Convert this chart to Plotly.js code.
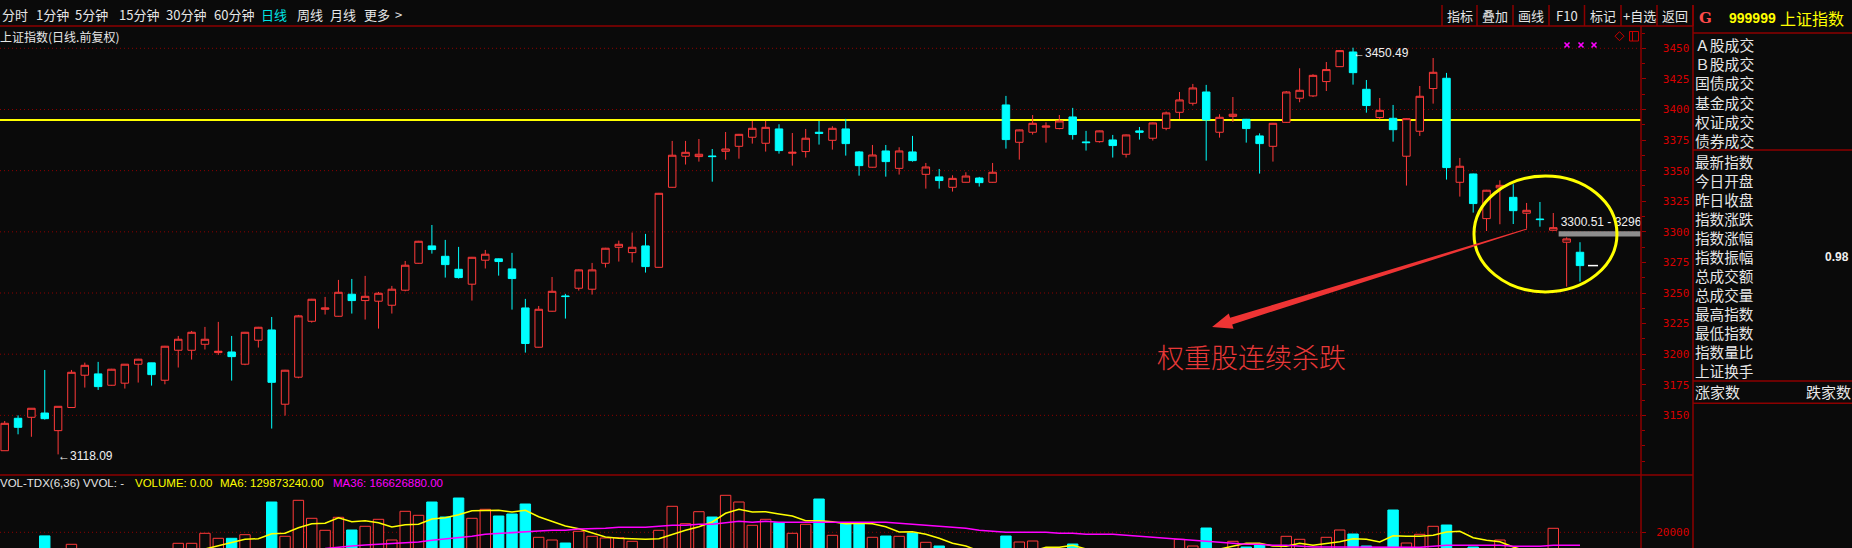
<!DOCTYPE html>
<html>
<head>
<meta charset="utf-8">
<script src="https://cdn.plot.ly/plotly-3.0.1.min.js"></script>
<style>
  html, body { margin: 0; padding: 0; background: #0a0a0a; overflow: hidden; }
  #chart { width: 1852px; height: 548px; }
</style>
</head>
<body>
<div id="chart"></div>
<script>
// ---- Daily bars, 上证指数 (index points) ----
const openPx = [3121.1,3147.6,3148.4,3151.9,3137.5,3156.4,3182.8,3183.9,3174.6,3176.3,
3191.8,3192.9,3178.7,3203.2,3203.2,3208.1,3201.3,3201.8,3191.8,3211.4,
3219.8,3159.1,3181.2,3226.9,3236.7,3231.0,3249.0,3243.8,3243.3,3240.0,
3252.3,3274.3,3288.5,3280.0,3269.4,3257.2,3276.8,3277.9,3269.7,3237.8,
3205.7,3235.1,3247.6,3253.9,3253.1,3274.3,3287.4,3283.0,3288.5,3271.0,
3336.4,3361.8,3361.5,3362.0,3365.8,3369.9,3377.3,3372.4,3384.1,3364.2,
3365.6,3381.4,3374.8,3384.1,3365.3,3352.8,3366.1,3351.9,3365.3,3347.0,
3344.9,3336.4,3340.5,3344.0,3340.5,3403.7,3373.2,3381.4,3385.5,3384.4,
3393.9,3373.5,3373.7,3375.1,3363.4,3382.5,3376.5,3384.6,3397.7,3405.1,
3414.3,3381.4,3394.4,3392.0,3378.4,3369.9,3389.5,3409.2,3411.1,3422.8,
3435.0,3447.0,3416.5,3393.4,3392.8,3361.8,3382.2,3417.1,3425.5,3340.5,
3347.3,3310.8,3335.9,3328.2,3315.2,3310.5,3301.3,3291.5,3283.3];

const highPx = [3145.4,3150.0,3155.8,3187.1,3157.4,3187.1,3193.1,3193.7,3188.0,3192.0,
3196.2,3193.0,3206.8,3214.9,3219.0,3222.3,3226.4,3214.9,3218.2,3222.3,
3230.4,3187.2,3232.1,3245.2,3246.8,3260.7,3261.5,3264.0,3250.9,3255.8,
3276.2,3292.6,3305.6,3293.4,3287.7,3279.5,3285.2,3278.2,3282.8,3245.2,
3239.4,3263.1,3249.3,3269.2,3274.6,3286.9,3292.8,3299.4,3298.3,3331.8,
3374.3,3374.3,3375.9,3367.7,3381.6,3380.0,3390.6,3390.6,3387.9,3380.8,
3384.1,3390.6,3386.3,3392.3,3366.1,3371.0,3371.0,3369.1,3378.4,3356.3,
3351.4,3346.2,3348.7,3344.9,3356.3,3411.1,3383.6,3395.5,3389.5,3395.5,
3401.3,3382.5,3382.8,3379.2,3379.5,3385.7,3389.3,3398.3,3414.3,3420.9,
3420.1,3396.1,3410.2,3392.3,3380.5,3389.0,3415.1,3433.7,3428.8,3438.8,
3448.4,3450.49,3424.1,3409.4,3403.7,3392.8,3419.2,3442.1,3429.9,3360.4,
3347.6,3334.3,3342.1,3338.9,3323.6,3324.4,3315.4,3295.5,3291.5];

const lowPx = [3121.1,3134.5,3132.5,3146.5,3118.09,3156.2,3172.7,3170.8,3174.3,3171.9,
3176.8,3174.3,3175.4,3189.1,3195.6,3203.8,3199.4,3178.4,3191.0,3205.4,
3139.2,3149.8,3180.3,3225.8,3232.4,3230.7,3233.2,3228.3,3220.9,3233.2,
3251.4,3274.0,3282.2,3262.6,3261.8,3243.8,3270.0,3264.2,3236.4,3201.3,
3205.4,3234.8,3229.1,3252.0,3248.7,3270.8,3275.7,3274.9,3266.7,3270.7,
3336.1,3355.0,3357.4,3341.0,3359.0,3359.8,3372.1,3365.6,3363.9,3354.1,
3360.7,3371.3,3367.2,3362.3,3345.9,3352.5,3345.1,3346.8,3357.4,3335.3,
3335.3,3332.9,3340.2,3337.0,3340.2,3368.0,3359.0,3379.5,3372.9,3383.8,
3375.4,3366.4,3372.9,3360.7,3360.7,3375.4,3374.6,3383.0,3392.3,3403.2,
3358.2,3377.0,3389.8,3372.9,3347.6,3357.4,3389.0,3405.9,3410.2,3415.1,
3434.7,3420.3,3397.4,3392.0,3373.7,3337.8,3378.4,3404.8,3342.7,3328.8,
3315.7,3300.7,3306.2,3306.4,3302.6,3304.2,3301.0,3255.2,3259.3];

const closePx = [3143.5,3140.2,3155.8,3147.3,3157.4,3185.2,3190.9,3173.5,3187.7,3191.8,
3195.9,3183.3,3206.5,3212.2,3217.9,3212.2,3202.4,3198.0,3217.9,3222.0,
3177.0,3186.9,3231.3,3244.9,3237.8,3250.6,3243.8,3247.3,3249.8,3253.1,
3272.7,3292.3,3285.5,3273.2,3262.6,3279.2,3281.7,3275.7,3261.8,3208.7,
3236.7,3251.4,3247.1,3268.9,3268.9,3286.6,3289.8,3287.4,3271.6,3331.5,
3362.6,3365.0,3363.4,3361.5,3367.7,3379.7,3384.6,3385.4,3366.4,3365.0,
3376.5,3380.5,3384.6,3372.1,3354.1,3362.8,3357.4,3366.1,3358.2,3353.0,
3341.9,3343.7,3345.6,3340.2,3348.7,3375.4,3383.3,3388.7,3386.5,3390.6,
3379.5,3372.9,3382.5,3370.5,3379.2,3381.4,3389.0,3397.2,3407.8,3417.6,
3391.4,3393.6,3396.1,3384.4,3372.1,3388.7,3414.3,3415.7,3427.9,3432.6,
3448.1,3430.1,3403.2,3399.3,3383.5,3392.5,3410.8,3430.4,3352.5,3353.6,
3323.1,3334.0,3338.0,3317.3,3317.6,3310.0,3303.4,3294.2,3272.4];

// ---- Volume (VOL-TDX) and its moving averages ----
const volume = [14500,13800,14200,19100,15200,17000,14800,13900,13200,14600,
13500,13000,15500,17250,17250,19750,18500,18500,19400,15800,
27575,19000,28000,23500,20500,23750,20575,21500,23250,18075,
25250,24250,27575,23825,28575,23500,25750,24075,24575,27075,
18750,18075,17325,20250,19000,18575,18650,17750,15900,20500,
26500,22150,25150,23825,29250,27575,21750,23250,22400,19750,
22000,28325,19250,22250,22250,18750,19075,19000,19825,17500,
16575,14800,13600,12900,15200,19075,17575,17825,14300,13800,
17075,13500,14200,13100,15000,12600,14400,15600,18250,16575,
21075,15100,17750,16325,16900,15800,19000,18250,15700,18750,
20575,19575,16575,14900,25575,17325,19500,21500,21825,15400,
16325,15900,18075,15300,14100,13600,21000,15800,15200];

const volMA6 = [null,null,null,null,null,null,null,null,null,null,
null,null,null,null,null,15825,16575,17400,18250,18400,
19650,19750,21150,22150,22250,23650,22650,22900,22400,21325,
21900,22000,23325,23650,24400,25400,25500,25500,25075,25500,
23900,22825,21575,20900,19900,18825,18500,18400,18250,18400,
19500,20500,21400,22575,24750,25750,25075,25150,24575,24075,
22900,22900,22650,22150,22250,22150,21400,20075,20150,19500,
18500,17250,16575,15300,14600,14300,14600,15300,16250,16250,
16750,15800,14900,14300,14000,13800,13900,14200,14600,14900,
15300,15800,16500,17250,17250,16575,16500,17250,16750,17150,
17650,18400,18250,17575,19150,19000,19000,19250,20075,20250,
18650,18000,17650,16325,15300,14800,15000,14900,14700];

const volMA36 = [null,null,null,null,null,null,null,null,null,null,
null,null,null,null,null,null,null,null,null,null,
null,null,null,null,15950,16325,16575,16825,17000,17075,
17250,17575,18000,18325,18650,19000,19500,19750,20000,20250,
20325,20500,20500,20825,20825,21000,21250,21250,21250,21500,
21750,21750,22000,22000,22325,22750,22500,22750,22500,22500,
22500,22575,22575,22500,22500,22500,22500,22250,22000,21750,
21500,21250,21000,20500,20250,20000,20000,20000,20000,19750,
19750,19500,19500,19500,19250,19000,18750,18500,18250,18000,
17750,17500,17250,17000,17000,16750,16750,16500,16325,16325,
16325,16325,16325,16250,16250,16250,16250,16500,16750,16750,
16750,16750,16750,16500,16500,16500,16750,16750,16750];

// ---- Axis ticks and reference levels ----
const priceTickVals = [3150,3175,3200,3225,3250,3275,3300,3325,3350,3375,3400,3425,3450];
const priceGridVals = [3150,3200,3250,3300,3350,3400,3450];
const volTickVals = [20000];
const resistanceLevel = 3391.4;
const bandHigh = 3300.51, bandLow = 3296.26, bandStartDay = 117;

// ---- Page geometry (pixels) ----
const W = 1852, H = 548;
const AXIS_X = 1641, PANEL_X = 1693;
const PRICE_TOP = 26, PRICE_BOTTOM = 475, VOL_TOP = 478;
const X_RANGE = [0.648, 123.57];
const Y_RANGE = [3101.25, 3468.23];
const V_RANGE = [16075, 33575];

const UP = '#ff3a3a', DOWN = '#00ffff', BG = '#0a0a0a', FRAME = '#8c0000', TICKRED = '#d80000';
const CJK = '"Noto Sans CJK SC", "Noto Sans", sans-serif';
const NUM = '"Liberation Sans", Arial, sans-serif';
const MONO = '"DejaVu Sans Mono", monospace';

const fx = p => p / W;
const fy = p => 1 - p / H;

const N = closePx.length;
const day = openPx.map((_, i) => i + 1);

// ---- Traces ----
const candles = {
  type: 'candlestick', x: day, open: openPx, high: highPx, low: lowPx, close: closePx,
  xaxis: 'x', yaxis: 'y', whiskerwidth: 0, hoverinfo: 'skip',
  increasing: { line: { color: UP, width: 1 }, fillcolor: BG },
  decreasing: { line: { color: DOWN, width: 1 }, fillcolor: DOWN }
};

const isUp = closePx.map((c, i) => c >= openPx[i]);
const volBars = {
  type: 'bar', x: day, y: volume, xaxis: 'x', yaxis: 'y2', width: 0.78, hoverinfo: 'skip',
  marker: {
    color: isUp.map(u => u ? BG : DOWN),
    line: { color: isUp.map(u => u ? UP : DOWN), width: 1 }
  }
};
const ma6Line = {
  type: 'scatter', mode: 'lines', x: day, y: volMA6, xaxis: 'x', yaxis: 'y2',
  line: { color: '#ffff00', width: 1.5 }, hoverinfo: 'skip'
};
const ma36Line = {
  type: 'scatter', mode: 'lines', x: day, y: volMA36, xaxis: 'x', yaxis: 'y2',
  line: { color: '#ff00ff', width: 1.6 }, hoverinfo: 'skip'
};
const bandText = {
  type: 'scatter', mode: 'text', x: [bandStartDay + 0.55], y: [bandHigh + 6.5],
  text: [bandHigh.toFixed(2) + ' - ' + bandLow.toFixed(2)],
  textposition: 'middle right', cliponaxis: true, hoverinfo: 'skip',
  textfont: { color: '#f0f0f0', size: 12, family: NUM }, xaxis: 'x', yaxis: 'y'
};

// ---- Helpers for frame lines and labels ----
function hline(y, x0, x1, color, width) {
  return { type: 'line', xref: 'paper', yref: 'paper', x0: fx(x0), x1: fx(x1), y0: fy(y), y1: fy(y),
           line: { color: color, width: width || 1 } };
}
function vline(x, y0, y1, color, width) {
  return { type: 'line', xref: 'paper', yref: 'paper', x0: fx(x), x1: fx(x), y0: fy(y0), y1: fy(y1),
           line: { color: color, width: width || 1 } };
}
function label(text, x, y, font, extra) {
  return Object.assign({ xref: 'paper', yref: 'paper', x: fx(x), y: fy(y), text: text, showarrow: false,
                         xanchor: 'left', yanchor: 'middle', font: font }, extra || {});
}

// Tapered hand-drawn arrow, built in screen space then mapped back to data units
const PX_PER_X = AXIS_X / (X_RANGE[1] - X_RANGE[0]);
const PX_PER_Y = (PRICE_BOTTOM - PRICE_TOP) / (Y_RANGE[1] - Y_RANGE[0]);
function taperedArrow(tail, tip, w0, w1, headLen, headHalf) {
  const toPx = p => [p[0] * PX_PER_X, -p[1] * PX_PER_Y];
  const toData = q => [q[0] / PX_PER_X, -q[1] / PX_PER_Y];
  const a = toPx(tail), b = toPx(tip);
  const dx = b[0] - a[0], dy = b[1] - a[1], len = Math.hypot(dx, dy);
  const ux = dx / len, uy = dy / len, nx = -uy, ny = ux;
  const base = [b[0] - ux * headLen, b[1] - uy * headLen];
  const pts = [
    [a[0] + nx * w0 / 2, a[1] + ny * w0 / 2],
    [base[0] + nx * w1 / 2, base[1] + ny * w1 / 2],
    [base[0] + nx * headHalf, base[1] + ny * headHalf],
    b,
    [base[0] - nx * headHalf, base[1] - ny * headHalf],
    [base[0] - nx * w1 / 2, base[1] - ny * w1 / 2],
    [a[0] - nx * w0 / 2, a[1] - ny * w0 / 2]
  ].map(toData);
  return 'M' + pts.map(p => p[0].toFixed(3) + ',' + p[1].toFixed(3)).join(' L') + ' Z';
}

// ---- Shapes ----
const shapes = [];
// price grid (dotted) and volume grid
priceGridVals.forEach(v => shapes.push({
  type: 'line', xref: 'x domain', yref: 'y', x0: 0, x1: 1, y0: v, y1: v, layer: 'below',
  line: { color: FRAME, width: 1, dash: '1px,3px' }
}));
volTickVals.forEach(v => shapes.push({
  type: 'line', xref: 'x domain', yref: 'y2', x0: 0, x1: 1, y0: v, y1: v, layer: 'below',
  line: { color: FRAME, width: 1, dash: '1px,3px' }
}));
// resistance line
shapes.push({ type: 'line', xref: 'x domain', yref: 'y', x0: 0, x1: 1, y0: resistanceLevel, y1: resistanceLevel,
              layer: 'below', line: { color: '#ffff00', width: 2 } });
// price band marker on the right
shapes.push({ type: 'rect', xref: 'x', yref: 'y', x0: bandStartDay + 0.4, x1: N + 10, y0: bandLow, y1: bandHigh,
              fillcolor: '#8e8e8e', line: { width: 0 } });
// last close marker
shapes.push({ type: 'line', xref: 'x', yref: 'y', x0: N + 0.6, x1: N + 1.35, y0: closePx[N - 1], y1: closePx[N - 1],
              line: { color: '#ffffff', width: 1.5 } });
// highlighted zone and arrow
shapes.push({ type: 'circle', xref: 'x', yref: 'y', x0: 111.06, x1: 121.77, y0: 3250.9, y1: 3345.6,
              line: { color: '#ffff00', width: 3 } });
shapes.push({ type: 'path', xref: 'x', yref: 'y', path: taperedArrow([115.03, 3302.3], [91.44, 3222.2], 1, 7, 20, 8),
              fillcolor: '#ee3434', line: { width: 0 } });

// frame
shapes.push(hline(PRICE_TOP, 0, PANEL_X, FRAME, 1.5));
shapes.push(hline(33, PANEL_X, W, FRAME, 1.5));
shapes.push(hline(PRICE_BOTTOM, 0, PANEL_X, FRAME, 1.5));
shapes.push(vline(AXIS_X, PRICE_TOP, H, FRAME, 1.5));
shapes.push(vline(PANEL_X, 5, H, FRAME, 1.5));
[150, 381, 403.3].forEach(y => shapes.push(hline(y, PANEL_X, W, FRAME, 1.5)));
const btnEdges = [1442, 1477, 1513, 1549, 1584.5, 1621, 1657, 1693];
btnEdges.forEach(x => shapes.push(vline(x, 5, PRICE_TOP, FRAME, 1.5)));

// small icons at the top right of the price pane
shapes.push({ type: 'path', xref: 'paper', yref: 'paper', line: { color: '#c80000', width: 1 },
  path: `M${fx(1615)},${fy(36.2)} L${fx(1619.5)},${fy(31.7)} L${fx(1624)},${fy(36.2)} L${fx(1619.5)},${fy(40.7)} Z` });
shapes.push({ type: 'rect', xref: 'paper', yref: 'paper', x0: fx(1629.5), x1: fx(1638.5), y0: fy(41), y1: fy(31.5),
              line: { color: '#c80000', width: 1 } });
shapes.push(vline(1632.5, 31.5, 41, '#c80000', 1));
[1567, 1581, 1594].forEach(x => {
  shapes.push({ type: 'line', xref: 'paper', yref: 'paper', x0: fx(x - 2.5), x1: fx(x + 2.5), y0: fy(42.5), y1: fy(47.5),
                line: { color: '#ff00ff', width: 1.6 } });
  shapes.push({ type: 'line', xref: 'paper', yref: 'paper', x0: fx(x - 2.5), x1: fx(x + 2.5), y0: fy(47.5), y1: fy(42.5),
                line: { color: '#ff00ff', width: 1.6 } });
});

// ---- Annotations ----
const ann = [];

const menuItems = ['分时', '1分钟', '5分钟', '15分钟', '30分钟', '60分钟', '日线', '周线', '月线', '更多', '>'];
const menuX = [2, 36, 75, 119, 166, 213.5, 261, 297, 330, 364, 395];
menuItems.forEach((t, i) => ann.push(label(t, menuX[i] - 2, 15,
  { family: CJK, size: 13, color: t === '日线' ? '#00e5e5' : '#e6e6e6' })));

const buttons = ['指标', '叠加', '画线', 'F10', '标记', '+自选', '返回'];
buttons.forEach((t, i) => ann.push(label(t, (btnEdges[i] + btnEdges[i + 1]) / 2, 15.5,
  { family: CJK, size: 13, color: '#e6e6e6' }, { xanchor: 'center' })));

ann.push(label('上证指数(日线.前复权)', -2, 36.5, { family: CJK, size: 12, color: '#e6e6e6' }));

// volume pane caption
ann.push(label('VOL-TDX(6,36) VVOL: -', -2, 483.3, { family: NUM, size: 11.5, color: '#e6e6e6' }));
ann.push(label('VOLUME: 0.00', 133, 483.3, { family: NUM, size: 11.5, color: '#ffff00' }));
ann.push(label('MA6: 129873240.00', 217.5, 483.3, { family: NUM, size: 11.5, color: '#ffff00' }));
ann.push(label('MA36: 166626880.00', 331, 483.3, { family: NUM, size: 11.5, color: '#ff00ff' }));

// extreme price callouts
const hiIdx = highPx.indexOf(Math.max(...highPx));
const loIdx = lowPx.indexOf(Math.min(...lowPx));
ann.push({ xref: 'x', yref: 'y', x: day[hiIdx], y: highPx[hiIdx], text: '←' + highPx[hiIdx].toFixed(2),
  showarrow: false, xanchor: 'left', yanchor: 'middle', yshift: -5, xshift: -2,
  font: { family: NUM, size: 12, color: '#f0f0f0' } });
ann.push({ xref: 'x', yref: 'y', x: day[loIdx], y: lowPx[loIdx], text: '←' + lowPx[loIdx].toFixed(2),
  showarrow: false, xanchor: 'left', yanchor: 'middle', yshift: -2, xshift: -2,
  font: { family: NUM, size: 12, color: '#f0f0f0' } });

// commentary
ann.push({ xref: 'x', yref: 'y', x: 94.36, y: 3197.8, text: '权重股连续杀跌', showarrow: false,
  xanchor: 'center', yanchor: 'middle', font: { family: CJK, size: 27, color: '#e83838', weight: 300 } });

// right quote panel
ann.push(label('G', 1697, 18, { family: '"DejaVu Serif", serif', size: 15, color: '#ff4a4a', weight: 700 }));
ann.push(label('999999', 1727, 18, { family: NUM, size: 14, color: '#ffff00', weight: 700 }));
ann.push(label('上证指数', 1778, 18, { family: CJK, size: 16, color: '#ffff00' }));

const panelTop = ['Ａ股成交', 'Ｂ股成交', '国债成交', '基金成交', '权证成交', '债券成交'];
const panelMid = ['最新指数', '今日开盘', '昨日收盘', '指数涨跌', '指数涨幅', '指数振幅', '总成交额', '总成交量',
                  '最高指数', '最低指数', '指数量比', '上证换手'];
ann.push(label(panelTop.join('<br>'), 1693, 92, { family: CJK, size: 14.8, color: '#e6e6e6' }, { align: 'left' }));
ann.push(label(panelMid.join('<br>'), 1693, 266.2, { family: CJK, size: 14.6, color: '#e6e6e6' }, { align: 'left' }));
ann.push(label('涨家数', 1693, 391.5, { family: CJK, size: 15, color: '#e6e6e6' }));
ann.push(label('跌家数', 1804, 391.5, { family: CJK, size: 15, color: '#e6e6e6' }));
const amplitude = (highPx[N - 1] - lowPx[N - 1]) / closePx[N - 2] * 100;
ann.push(label(amplitude.toFixed(2), 1851, 257.3, { family: NUM, size: 12, color: '#f0f0f0', weight: 700 },
  { xanchor: 'right' }));

// ---- Layout ----
const yTickCommon = {
  side: 'right', anchor: 'x', showgrid: false, zeroline: false, showline: false,
  ticks: 'outside', ticklen: 4, tickwidth: 1, tickcolor: '#a00000',
  tickfont: { family: MONO, size: 11, color: TICKRED }, ticklabelstandoff: 8, fixedrange: true
};

const layout = {
  width: W, height: H,
  margin: { l: 0, r: 0, t: 0, b: 0, pad: 0 },
  paper_bgcolor: BG, plot_bgcolor: BG,
  showlegend: false, hovermode: false, boxgap: 0.2, bargap: 0,
  font: { family: CJK, color: '#e6e6e6' },
  xaxis: {
    domain: [0, AXIS_X / W], range: X_RANGE, anchor: 'y2',
    showgrid: false, zeroline: false, showticklabels: false, ticks: '', showline: false,
    rangeslider: { visible: false }, fixedrange: true
  },
  yaxis: Object.assign({}, yTickCommon, {
    domain: [1 - PRICE_BOTTOM / H, 1 - PRICE_TOP / H], range: Y_RANGE,
    tickmode: 'array', tickvals: priceTickVals, ticktext: priceTickVals.map(v => '\u00a0' + v),
    minor: { tickmode: 'linear', tick0: 3150, dtick: 12.5, ticks: 'outside', ticklen: 3, tickcolor: '#a00000', showgrid: false }
  }),
  yaxis2: Object.assign({}, yTickCommon, {
    domain: [0, 1 - VOL_TOP / H], range: V_RANGE,
    tickmode: 'array', tickvals: volTickVals, ticktext: volTickVals.map(v => String(v))
  }),
  shapes: shapes,
  annotations: ann
};

Plotly.newPlot('chart', [volBars, ma6Line, ma36Line, candles, bandText], layout, { staticPlot: true, displayModeBar: false });
</script>
</body>
</html>
